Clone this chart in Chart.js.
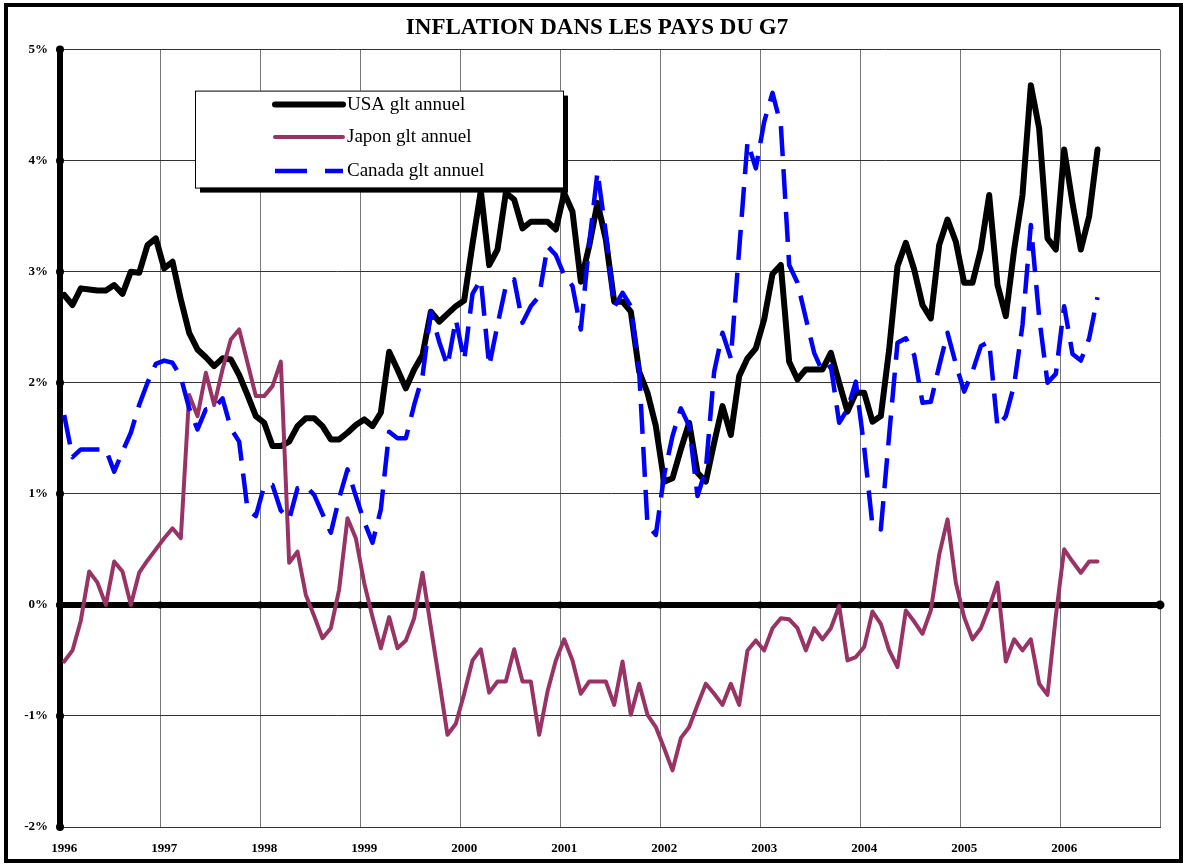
<!DOCTYPE html>
<html>
<head>
<meta charset="utf-8">
<script src="https://cdn.jsdelivr.net/npm/chart.js@4"></script>
<style>
  html, body { margin: 0; padding: 0; background: #fff; }
  #frame {
    position: absolute; left: 4px; top: 3px;
    width: 1179px; height: 860px;
    box-sizing: border-box; border: 4px solid #000; background: #fff;
  }
</style>
</head>
<body>
<div id="frame"><canvas id="inflationChart"></canvas></div>
<script>
// Years on the axis (one category per month, Jan 1996 .. Dec 2006)
const years = ['1996', '1997', '1998', '1999', '2000', '2001', '2002', '2003', '2004', '2005', '2006'];
const months = [];
years.forEach((y) => {
    for (let m = 1; m <= 12; m++) {
        months.push(y + '-' + String(m).padStart(2, '0'));
    }
});

const yTicks = [-2, -1, 0, 1, 2, 3, 4, 5];

// Monthly values, % year on year, Jan 1996 .. May 2006
const usaValues = [
    2.79, 2.70, 2.85, 2.84, 2.83, 2.83, 2.88, 2.80, 3.00, 2.99, 3.24, 3.30,
    3.03, 3.09, 2.75, 2.45, 2.30, 2.23, 2.15, 2.22, 2.21, 2.07, 1.89, 1.70,
    1.64, 1.43, 1.43, 1.47, 1.61, 1.68, 1.68, 1.61, 1.49, 1.49, 1.55, 1.62,
    1.67, 1.61, 1.73, 2.28, 2.12, 1.95, 2.12, 2.25, 2.64, 2.55, 2.62, 2.69,
    2.74, 3.25, 3.73, 3.06, 3.20, 3.71, 3.65, 3.39, 3.45, 3.45, 3.45, 3.38,
    3.71, 3.54, 2.91, 3.23, 3.62, 3.29, 2.73, 2.73, 2.64, 2.10, 1.91, 1.61,
    1.11, 1.14, 1.40, 1.64, 1.19, 1.11, 1.46, 1.79, 1.53, 2.06, 2.22, 2.31,
    2.57, 2.98, 3.06, 2.19, 2.03, 2.12, 2.12, 2.12, 2.27, 2.00, 1.74, 1.91,
    1.91, 1.65, 1.70, 2.30, 3.05, 3.26, 3.02, 2.70, 2.58, 3.24, 3.47, 3.27,
    2.90, 2.90, 3.20, 3.69, 2.88, 2.60, 3.20, 3.69, 4.68, 4.29, 3.30, 3.20,
    4.10, 3.62, 3.20, 3.50, 4.10
];

const japonValues = [
    -0.51, -0.41, -0.14, 0.30, 0.20, 0.00, 0.39, 0.30, 0.00, 0.29, 0.40, 0.50,
    0.60, 0.69, 0.60, 1.89, 1.70, 2.09, 1.80, 2.12, 2.39, 2.48, 2.18, 1.88,
    1.88, 1.97, 2.19, 0.38, 0.48, 0.09, -0.10, -0.30, -0.21, 0.14, 0.78, 0.60,
    0.20, -0.11, -0.39, -0.11, -0.39, -0.32, -0.12, 0.29, -0.20, -0.68, -1.17, -1.07,
    -0.80, -0.50, -0.40, -0.79, -0.69, -0.69, -0.40, -0.69, -0.69, -1.17, -0.78, -0.50,
    -0.31, -0.50, -0.80, -0.69, -0.69, -0.69, -0.90, -0.51, -0.99, -0.71, -0.99, -1.10,
    -1.29, -1.49, -1.20, -1.10, -0.90, -0.71, -0.80, -0.90, -0.71, -0.90, -0.41, -0.32,
    -0.41, -0.21, -0.12, -0.13, -0.21, -0.41, -0.21, -0.31, -0.21, -0.01, -0.50, -0.47,
    -0.38, -0.06, -0.17, -0.41, -0.56, -0.05, -0.15, -0.26, -0.05, 0.45, 0.77, 0.20,
    -0.11, -0.31, -0.21, -0.02, 0.20, -0.51, -0.31, -0.41, -0.31, -0.71, -0.81, -0.10,
    0.50, 0.39, 0.29, 0.39, 0.39
];

const canadaValues = [
    1.71, 1.33, 1.40, 1.40, 1.40, 1.40, 1.20, 1.38, 1.55, 1.80, 2.00, 2.17,
    2.20, 2.18, 2.05, 1.77, 1.58, 1.76, 1.77, 1.86, 1.59, 1.47, 0.86, 0.80,
    1.07, 1.08, 0.85, 0.77, 1.05, 1.07, 0.99, 0.82, 0.65, 0.96, 1.22, 0.98,
    0.75, 0.56, 0.86, 1.56, 1.50, 1.50, 1.80, 2.06, 2.64, 2.37, 2.15, 2.57,
    2.20, 2.80, 2.93, 2.15, 2.52, 2.87, 2.93, 2.54, 2.69, 2.78, 3.23, 3.15,
    2.97, 2.87, 2.48, 3.25, 3.90, 3.35, 2.68, 2.81, 2.69, 2.10, 0.72, 0.63,
    1.17, 1.52, 1.77, 1.61, 0.98, 1.22, 2.10, 2.45, 2.22, 3.20, 4.17, 3.93,
    4.35, 4.61, 4.32, 3.06, 2.90, 2.58, 2.27, 2.10, 2.15, 1.64, 1.76, 2.01,
    1.42, 0.71, 0.68, 1.53, 2.36, 2.40, 2.25, 1.82, 1.83, 2.15, 2.45, 2.17,
    1.92, 2.10, 2.33, 2.37, 1.60, 1.70, 1.98, 2.52, 3.42, 2.59, 2.00, 2.08,
    2.69, 2.26, 2.20, 2.40, 2.77
];

const serif = "'Liberation Serif', 'Times New Roman', serif";

// Dots on the y axis and on the zero line, like the Excel axis markers
const axisDots = {
    id: 'axisDots',
    beforeDatasetsDraw(chart) {
        const { ctx, chartArea, scales: { x, y } } = chart;
        ctx.save();
        ctx.fillStyle = '#000';
        yTicks.forEach((v) => {
            ctx.beginPath();
            ctx.arc(chartArea.left, y.getPixelForValue(v), 4, 0, Math.PI * 2);
            ctx.fill();
        });
        const y0 = y.getPixelForValue(0);
        for (let i = 0; i <= months.length; i += 12) {
            const px = x.getPixelForValue(i - 0.5);
            ctx.beginPath();
            ctx.arc(px, y0, i === months.length ? 4.5 : 3.5, 0, Math.PI * 2);
            ctx.fill();
        }
        ctx.restore();
    }
};

// Boxed legend with a shadow, drawn inside the plot area
const boxLegend = {
    id: 'boxLegend',
    afterDraw(chart) {
        const { ctx, chartArea } = chart;
        const left = chartArea.left + 135;
        const top = chartArea.top + 41;
        const w = 368, h = 97;
        ctx.save();
        ctx.fillStyle = '#000';
        ctx.fillRect(left + 5, top + 5, w, h);
        ctx.fillStyle = '#fff';
        ctx.fillRect(left, top, w, h);
        ctx.strokeStyle = '#000';
        ctx.lineWidth = 1;
        ctx.strokeRect(left + 0.5, top + 0.5, w, h);

        const rows = [14, 46.5, 80.5];
        chart.data.datasets.forEach((ds, i) => {
            const ly = top + rows[i];
            ctx.beginPath();
            ctx.strokeStyle = ds.borderColor;
            ctx.lineWidth = ds.borderWidth;
            ctx.lineCap = ds.borderDash ? 'butt' : 'round';
            ctx.setLineDash(ds.borderDash ? [32, 18] : []);
            ctx.moveTo(left + 80, ly);
            ctx.lineTo(left + 148, ly);
            ctx.stroke();
            ctx.setLineDash([]);
            ctx.fillStyle = '#000';
            ctx.font = '19px ' + serif;
            ctx.textBaseline = 'middle';
            ctx.fillText(ds.label, left + 152, ly);
        });
        ctx.restore();
    }
};

const ctxInflation = document.getElementById('inflationChart').getContext('2d');
const inflationChart = new Chart(ctxInflation, {
    type: 'line',
    data: {
        labels: months,
        datasets: [
            {
                label: 'USA glt annuel',
                data: usaValues,
                borderColor: '#000000',
                borderWidth: 6,
                borderJoinStyle: 'round',
                borderCapStyle: 'round',
                pointRadius: 0,
                tension: 0,
                order: 3
            },
            {
                label: 'Japon glt annuel',
                data: japonValues,
                borderColor: '#993366',
                borderWidth: 4,
                borderJoinStyle: 'round',
                borderCapStyle: 'round',
                pointRadius: 0,
                tension: 0,
                order: 2
            },
            {
                label: 'Canada glt annuel',
                data: canadaValues,
                borderColor: '#0000FF',
                borderWidth: 4.5,
                borderDash: [30, 13],
                borderJoinStyle: 'round',
                pointRadius: 0,
                tension: 0,
                order: 1
            }
        ]
    },
    options: {
        responsive: true,
        maintainAspectRatio: false,
        animation: false,
        layout: { padding: { left: 7, right: 0, top: 0, bottom: 0 } },
        plugins: {
            legend: { display: false },
            tooltip: { enabled: false },
            title: {
                display: true,
                text: 'INFLATION DANS LES PAYS DU G7',
                color: '#000',
                font: { family: serif, size: 23, weight: 'bold' },
                padding: { top: 7, bottom: 8 }
            }
        },
        scales: {
            x: {
                type: 'category',
                offset: true,
                grid: {
                    offset: true,
                    drawTicks: false,
                    lineWidth: 1,
                    color: (c) => (c.type === 'tick' ? (c.index % 12 === 0 ? '#777' : 'rgba(0,0,0,0)') : '#777')
                },
                border: { display: true, color: '#333', width: 1 },
                ticks: {
                    autoSkip: false,
                    maxRotation: 0,
                    minRotation: 0,
                    padding: 14,
                    color: '#000',
                    font: { family: serif, size: 13, weight: 'bold' },
                    callback: (val, i) => (i % 12 === 0 ? months[i].slice(0, 4) : '')
                },
                afterFit: (s) => { s.height = 32; }
            },
            y: {
                min: -2,
                max: 5,
                grid: {
                    drawTicks: false,
                    color: (c) => (c.tick && c.tick.value === 0 ? '#000' : '#333'),
                    lineWidth: (c) => (c.tick && c.tick.value === 0 ? 6 : 1)
                },
                border: { display: true, color: '#000', width: 6 },
                ticks: {
                    stepSize: 1,
                    padding: 12,
                    color: '#000',
                    font: { family: serif, size: 13, weight: 'bold' },
                    callback: (v) => v + '%'
                },
                afterFit: (s) => { s.width = 45; }
            },
            yRight: {
                position: 'right',
                display: true,
                grid: { display: false },
                border: { display: false },
                ticks: { display: false },
                afterFit: (s) => { s.width = 19; }
            }
        }
    },
    plugins: [axisDots, boxLegend]
});
</script>
</body>
</html>
